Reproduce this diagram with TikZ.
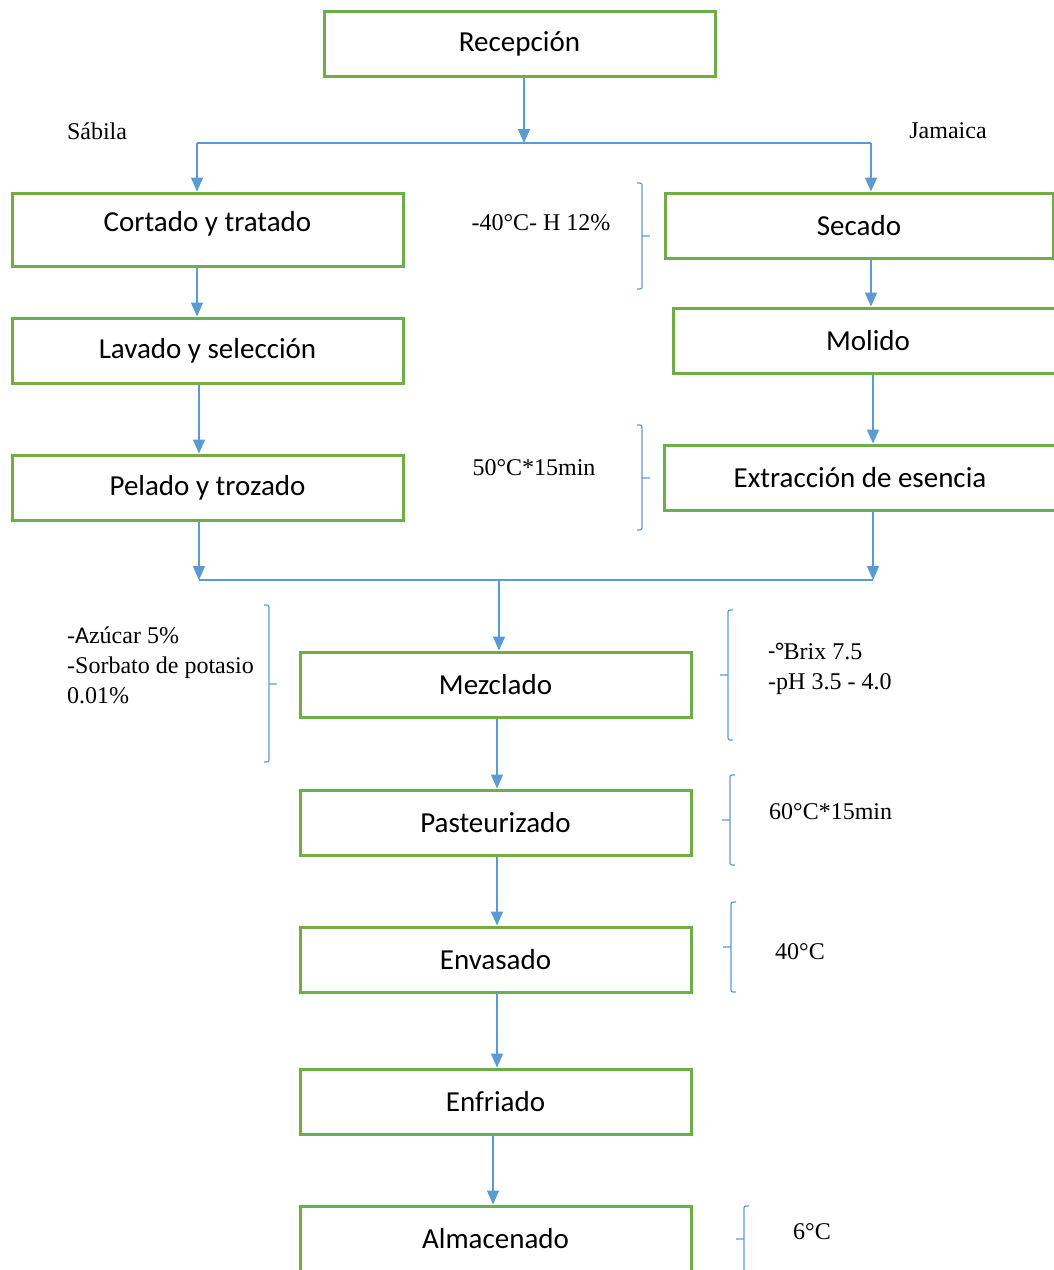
\documentclass[tikz,border=0pt]{standalone}
\usepackage{fontspec}
\setmainfont{Liberation Serif}
\newfontfamily\cajafont{Carlito}
\usetikzlibrary{arrows.meta}
\definecolor{verde}{HTML}{70AD47}
\definecolor{azul}{HTML}{5B9BD5}

\begin{document}
\begin{tikzpicture}[x=1pt, y=-1pt,
  caja/.style={draw=verde, line width=3pt, minimum width=391pt, minimum height=65pt, inner sep=0pt, font=\cajafont\fontsize{29}{34}\selectfont},
  flecha/.style={draw=azul, line width=1.5pt, -{Triangle[length=14pt,width=12pt]}},
  linea/.style={draw=azul, line width=1.5pt},
  llave/.style={draw=azul, line width=1.2pt, rounded corners=2pt},
  nota/.style={inner sep=0pt, font=\fontsize{24}{30}\selectfont}]
\useasboundingbox (0,0) rectangle (1053,1270);

% cajas del proceso
\node[caja] (rec) at (519.5,43.5) {Recepción};
\node[caja, minimum height=73pt, text depth=16pt] (cort) at (207.5,229.5) {Cortado y tratado};
\node[caja] (lav) at (207.5,350.5) {Lavado y selección};
\node[caja] (pel) at (207.5,487.5) {Pelado y trozado};
\node[caja, minimum width=388pt] (sec) at (859,225.5) {Secado};
\node[caja, minimum width=390pt] (mol) at (868,340.5) {Molido};
\node[caja] (ext) at (860,477.5) {Extracción de esencia};
\node[caja] (mez) at (495.5,684.5) {Mezclado};
\node[caja] (pas) at (495.5,822.5) {Pasteurizado};
\node[caja] (env) at (495.5,959.5) {Envasado};
\node[caja] (enf) at (495.5,1101.5) {Enfriado};
\node[caja] (alm) at (495.5,1238.5) {Almacenado};

% notas
\node[nota] (sab) at (97,131) {Sábila};
\node[nota] (jam) at (948,131) {Jamaica};
\node[nota] (cond1) at (541,223) {-40°C- H 12\%};
\node[nota] (cond2) at (534,468) {50°C*15min};
\node[nota, anchor=west, align=left] (adit) at (67,665) {-{\cajafont A}zúcar 5\%\\-Sorbato de potasio\\0.01\%};
\node[nota, anchor=west, align=left] (brix) at (768,669) {{\cajafont -°}Brix 7.5\\-pH 3.5 - 4.0};
\node[nota, anchor=west] (cond3) at (769,812) {60°C*15min};
\node[nota, anchor=west] (cond4) at (775,952) {40°C};
\node[nota, anchor=west] (cond5) at (793,1232) {6°C};

% puntos de division y union
\coordinate (divC) at (524,143);
\coordinate (divL) at (197,143);
\coordinate (divR) at (871,143);
\coordinate (colL) at (199,0);
\coordinate (colR) at (873,0);
\coordinate (unL) at (199,580);
\coordinate (unR) at (873,580);
\coordinate (unC) at (499,580);
\coordinate (colC) at (497,0);
\coordinate (colA) at (493,0);

% conectores
\draw[flecha] (rec.south -| divC) -- (divC);
\draw[linea] (divL) -- (divR);
\draw[flecha] (divL) -- (cort.north -| divL);
\draw[flecha] (divR) -- (sec.north -| divR);
\draw[flecha] (cort.south -| divL) -- (lav.north -| divL);
\draw[flecha] (lav.south -| colL) -- (pel.north -| colL);
\draw[flecha] (sec.south -| divR) -- (mol.north -| divR);
\draw[flecha] (mol.south -| colR) -- (ext.north -| colR);
\draw[flecha] (pel.south -| unL) -- (unL);
\draw[flecha] (ext.south -| unR) -- (unR);
\draw[linea] (unL) -- (unR);
\draw[flecha] (unC) -- (mez.north -| unC);
\draw[flecha] (mez.south -| colC) -- (pas.north -| colC);
\draw[flecha] (pas.south -| colC) -- (env.north -| colC);
\draw[flecha] (env.south -| colC) -- (enf.north -| colC);
\draw[flecha] (enf.south -| colA) -- (alm.north -| colA);

% llaves
\foreach \x/\a/\b/\m in {642/183/289/236, 642/425/530/478, 269/605/762/684}
  \draw[llave] (\x-5,\a) -- (\x,\a) -- (\x,\b) -- (\x-5,\b) (\x,\m) -- (\x+8,\m);
\foreach \x/\a/\b/\m in {728/610/740/675, 730/775/865/820, 731/902/992/947, 744/1206/1280/1239}
  \draw[llave] (\x+5,\a) -- (\x,\a) -- (\x,\b) -- (\x+5,\b) (\x,\m) -- (\x-8,\m);
\end{tikzpicture}
\end{document}
